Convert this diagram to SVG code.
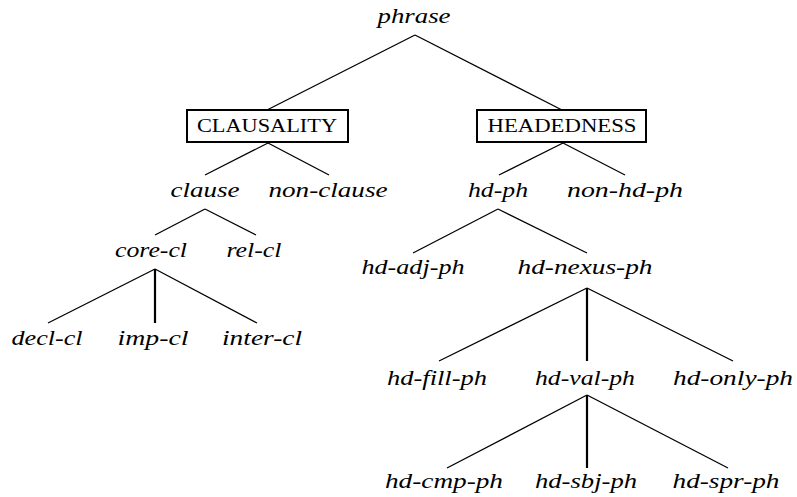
<svg xmlns="http://www.w3.org/2000/svg" width="797" height="497" viewBox="0 0 797 497">
<style>
.t{font-family:"Liberation Serif","Times New Roman",serif;font-style:italic;font-size:21px;fill:#000;text-anchor:middle}
.c{font-family:"Liberation Serif","DejaVu Serif",serif;font-size:19px;fill:#000;text-anchor:middle}
.b{fill:#fff;stroke:#000;stroke-width:2}
#edges line{stroke:#000;stroke-width:1.3}
#edges line.v{stroke-width:2.2}
</style>
<rect width="797" height="497" fill="#fff"/>
<g id="edges">
<line x1="415" y1="35" x2="267" y2="110"/>
<line x1="415" y1="35" x2="562" y2="110"/>
<line x1="268" y1="143" x2="205" y2="175"/>
<line x1="268" y1="143" x2="329" y2="175"/>
<line x1="563" y1="143" x2="499" y2="175"/>
<line x1="563" y1="143" x2="625" y2="175"/>
<line x1="205" y1="209" x2="155" y2="235"/>
<line x1="205" y1="209" x2="256" y2="235"/>
<line x1="155" y1="269" x2="48" y2="323"/>
<line class="v" x1="155" y1="269" x2="155" y2="323"/>
<line x1="155" y1="269" x2="257" y2="323"/>
<line x1="498" y1="209" x2="413" y2="253"/>
<line x1="498" y1="209" x2="587" y2="253"/>
<line x1="587" y1="288" x2="439" y2="361"/>
<line class="v" x1="587" y1="288" x2="587" y2="361"/>
<line x1="587" y1="288" x2="733" y2="361"/>
<line x1="587" y1="395" x2="447" y2="468"/>
<line class="v" x1="587" y1="395" x2="587" y2="468"/>
<line x1="587" y1="395" x2="728" y2="468"/>
</g>
<g id="phrase"><text class="t" x="414" y="23" textLength="73" lengthAdjust="spacingAndGlyphs">phrase</text></g>
<g id="clausality"><rect class="b" x="187" y="110" width="161" height="32"/><text class="c" x="267" y="132" textLength="140" lengthAdjust="spacingAndGlyphs">CLAUSALITY</text></g>
<g id="headedness"><rect class="b" x="477" y="110" width="169" height="32"/><text class="c" x="562" y="132" textLength="149" lengthAdjust="spacingAndGlyphs">HEADEDNESS</text></g>
<g id="clause"><text class="t" x="205" y="197" textLength="69" lengthAdjust="spacingAndGlyphs">clause</text></g>
<g id="non-clause"><text class="t" x="328" y="197" textLength="119" lengthAdjust="spacingAndGlyphs">non-clause</text></g>
<g id="hd-ph"><text class="t" x="498" y="197" textLength="60" lengthAdjust="spacingAndGlyphs">hd-ph</text></g>
<g id="non-hd-ph"><text class="t" x="625" y="197" textLength="116" lengthAdjust="spacingAndGlyphs">non-hd-ph</text></g>
<g id="core-cl"><text class="t" x="151" y="257" textLength="72" lengthAdjust="spacingAndGlyphs">core-cl</text></g>
<g id="rel-cl"><text class="t" x="254" y="257" textLength="55" lengthAdjust="spacingAndGlyphs">rel-cl</text></g>
<g id="decl-cl"><text class="t" x="47" y="345" textLength="71" lengthAdjust="spacingAndGlyphs">decl-cl</text></g>
<g id="imp-cl"><text class="t" x="153" y="345" textLength="71" lengthAdjust="spacingAndGlyphs">imp-cl</text></g>
<g id="inter-cl"><text class="t" x="262" y="345" textLength="80" lengthAdjust="spacingAndGlyphs">inter-cl</text></g>
<g id="hd-adj-ph"><text class="t" x="413" y="274" textLength="103" lengthAdjust="spacingAndGlyphs">hd-adj-ph</text></g>
<g id="hd-nexus-ph"><text class="t" x="585" y="274" textLength="135" lengthAdjust="spacingAndGlyphs">hd-nexus-ph</text></g>
<g id="hd-fill-ph"><text class="t" x="437" y="385" textLength="100" lengthAdjust="spacingAndGlyphs">hd-fill-ph</text></g>
<g id="hd-val-ph"><text class="t" x="585" y="385" textLength="100" lengthAdjust="spacingAndGlyphs">hd-val-ph</text></g>
<g id="hd-only-ph"><text class="t" x="733" y="385" textLength="120" lengthAdjust="spacingAndGlyphs">hd-only-ph</text></g>
<g id="hd-cmp-ph"><text class="t" x="444" y="488" textLength="118" lengthAdjust="spacingAndGlyphs">hd-cmp-ph</text></g>
<g id="hd-sbj-ph"><text class="t" x="586" y="488" textLength="102" lengthAdjust="spacingAndGlyphs">hd-sbj-ph</text></g>
<g id="hd-spr-ph"><text class="t" x="726" y="488" textLength="107" lengthAdjust="spacingAndGlyphs">hd-spr-ph</text></g>
</svg>
